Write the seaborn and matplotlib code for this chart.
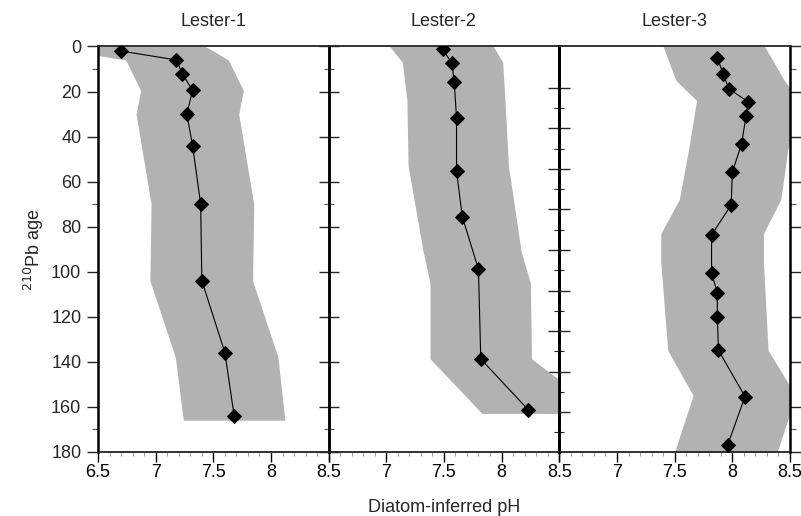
import matplotlib
matplotlib.use("Agg")
import matplotlib.pyplot as plt
import seaborn as sns
import pandas as pd

sns.set_theme(style="ticks")
plt.rcParams['font.family'] = ['Liberation Sans', 'DejaVu Sans']

# ---------------- data ----------------
titles = ["Lester-1", "Lester-2", "Lester-3"]

l1_age = [2, 6, 12, 19.5, 30, 44, 70, 104, 136, 164]
l1_ph = [6.70, 7.18, 7.23, 7.32, 7.27, 7.32, 7.39, 7.40, 7.60, 7.68]
l1_band_age = [0, 2, 6, 19.5, 30, 70, 104, 138, 166]
l1_band_low = [6.26, 6.26, 6.74, 6.87, 6.83, 6.96, 6.95, 7.17, 7.24]
l1_band_high = [7.43, 7.50, 7.63, 7.76, 7.72, 7.85, 7.84, 8.06, 8.12]

l2_age = [1.3, 7.4, 15.9, 31.9, 55.4, 75.6, 99, 138.8, 161.3]
l2_ph = [7.49, 7.57, 7.59, 7.61, 7.61, 7.66, 7.80, 7.82, 8.23]
l2_band_age = [0, 7, 24, 53, 91, 105, 138.7, 150, 163]
l2_band_low = [7.03, 7.14, 7.18, 7.19, 7.32, 7.38, 7.38, 7.59, 7.83]
l2_band_high = [7.93, 8.01, 8.03, 8.06, 8.17, 8.25, 8.26, 8.55, 8.70]

l3_age = [5, 12.1, 18.8, 24.7, 30.7, 43.2, 55.9, 70.4, 83.7, 100.7, 109.3, 120.3, 135, 155.5, 177]
l3_ph = [7.87, 7.92, 7.97, 8.14, 8.12, 8.08, 8.00, 7.99, 7.82, 7.82, 7.87, 7.87, 7.88, 8.11, 7.96]
l3_band_age = [0, 15, 24, 46, 68, 83, 96, 135, 155, 180]
l3_band_low = [7.40, 7.51, 7.69, 7.62, 7.54, 7.38, 7.38, 7.44, 7.66, 7.50]
l3_band_high = [8.28, 8.45, 8.58, 8.48, 8.42, 8.27, 8.27, 8.31, 8.55, 8.39]

x_ticks = [6.5, 7, 7.5, 8, 8.5]
x_ticklabels_first = ["6.5", "7", "7.5", "8", "8.5"]
x_ticklabels_other = ["", "7", "7.5", "8", "8.5"]
y_ticks = [0, 20, 40, 60, 80, 100, 120, 140, 160, 180]
y_minor = [10, 70, 170]
# odd ticks on the Lester-2 / Lester-3 boundary
odd_major = [18.4, 36.4, 54.4, 72.4, 90.4, 108.4, 126.4, 144.4, 162.4]
odd_minor = [27.4, 45.4, 63.4, 81.4, 99.4, 117.4, 135.4, 153.4, 171.4]
x_minor = [6.6, 6.7, 6.8, 6.9, 7.1, 7.2, 7.3, 7.4, 7.6, 7.7, 7.8, 7.9, 8.1, 8.2, 8.3, 8.4]

series = [
    (l1_age, l1_ph, l1_band_age, l1_band_low, l1_band_high),
    (l2_age, l2_ph, l2_band_age, l2_band_low, l2_band_high),
    (l3_age, l3_ph, l3_band_age, l3_band_low, l3_band_high),
]

BAND = "#b2b2b2"
W, H = 801, 516
fig = plt.figure(figsize=(W / 100, H / 100), dpi=100)

lefts = [98.0, 328.5, 559.3]
ax_w = 230.7
ax_top, ax_bot = 46.5, 451.7

axes = []
for i, (age, ph, bage, blow, bhigh) in enumerate(series):
    ax = fig.add_axes([lefts[i] / W, 1 - ax_bot / H, ax_w / W, (ax_bot - ax_top) / H])
    ax.set_facecolor("none")
    ax.fill_betweenx(bage, blow, bhigh, color=BAND, lw=0, zorder=1)
    df = pd.DataFrame({"pH": ph, "age": age})
    sns.lineplot(data=df, x="pH", y="age", sort=False, estimator=None, ax=ax,
                 color="black", lw=0.8, marker="D", markersize=7,
                 markeredgecolor="black", zorder=3)
    ax.set_xlim(6.5, 8.5)
    ax.set_ylim(180, 0)
    ax.set_xticks(x_ticks)
    ax.set_xticklabels(x_ticklabels_first if i == 0 else x_ticklabels_other)
    ax.set_xticks(x_minor, minor=True)
    ax.set_yticks(y_ticks)
    ax.set_yticks(y_minor, minor=True)
    ax.set_xlabel("")
    ax.set_ylabel("")
    ax.set_title(titles[i], fontsize=13, pad=15)
    for s in ["left", "right"]:
        ax.spines[s].set_linewidth(1.8)
        ax.spines[s].set_color("black")
    for s in ["top", "bottom"]:
        ax.spines[s].set_linewidth(1.3)
        ax.spines[s].set_color("#222222")
        ax.spines[s].set_visible(True)
    ax.spines["right"].set_visible(True)
    ax.tick_params(axis="x", which="major", direction="out", length=7, width=1.0,
                   labelsize=13, pad=2, colors="black", bottom=True, top=False)
    ax.tick_params(axis="x", which="minor", direction="out", length=3, width=0.6,
                   color="#888888", bottom=True, top=False)
    axes.append(ax)

# Lester-1: labelled left axis, ticks outward
a1 = axes[0]
a1.tick_params(axis="y", which="major", direction="out", length=8, width=1.0,
               labelsize=13, pad=4, left=True, right=False, labelleft=True)
a1.tick_params(axis="y", which="minor", direction="out", length=4, width=0.8,
               color="#555555", left=True, right=False)
a1.set_ylabel("$^{210}$Pb age", fontsize=13, labelpad=4)

# Lester-2: ticks crossing the left spine
a2 = axes[1]
a2.tick_params(axis="y", which="major", direction="inout", length=14, width=1.0,
               left=True, right=False, labelleft=False)
a2.tick_params(axis="y", which="minor", direction="inout", length=7, width=0.8,
               color="#555555", left=True, right=False)
a2.set_xlabel("Diatom-inferred pH", fontsize=13, labelpad=13)
sec = a2.secondary_yaxis("right")
sec.set_yticks(odd_major)
sec.set_yticks(odd_minor, minor=True)
sec.tick_params(axis="y", which="major", direction="inout", length=16, width=1.0,
                labelright=False)
sec.tick_params(axis="y", which="minor", direction="inout", length=7, width=0.8)
sec.spines["right"].set_linewidth(1.8)

# Lester-3: ticks outward on the right spine
a3 = axes[2]
a3.tick_params(axis="y", which="major", direction="out", length=8, width=1.0,
               left=False, right=True, labelleft=False, labelright=False)
a3.tick_params(axis="y", which="minor", direction="out", length=4, width=0.8,
               color="#555555", left=False, right=True)

fig.savefig("out.png", dpi=100)
